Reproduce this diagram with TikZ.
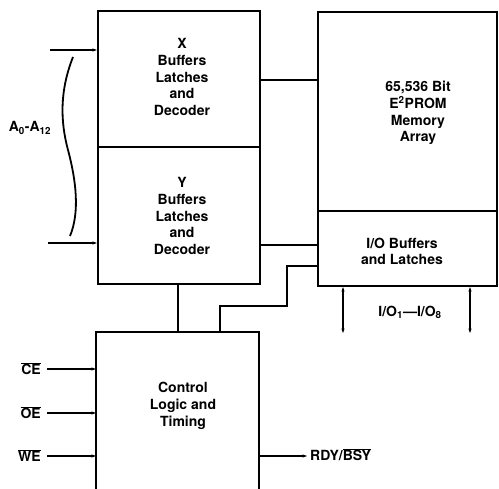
\documentclass[tikz,border=0pt]{standalone}
\usepackage{fontspec}
\setmainfont{TeX Gyre Heros}
\usetikzlibrary{arrows.meta,calc}
\begin{document}
\begin{tikzpicture}[x=1pt,y=-1pt,
  blk/.style={draw,line width=2.2pt,inner sep=0pt},
  lbl/.style={font=\fontsize{14}{16.7}\selectfont\bfseries,align=center,inner sep=0pt},
  wire/.style={line width=1.2pt},
  arr/.style={wire,-{Stealth[length=4.5pt,width=3.2pt]}},
  biarr/.style={wire,{Stealth[length=4.5pt,width=3.2pt]}-{Stealth[length=4.5pt,width=3.2pt]}}
]
\useasboundingbox (0,0) rectangle (499,489);

% blocks
\node[blk,minimum width=162pt,minimum height=136pt] (xb) at (179,79) {};
\node[blk,minimum width=162pt,minimum height=137pt] (yb) at (179,215.5) {};
\node[blk,minimum width=179pt,minimum height=199pt] (mb) at (407.5,111.5) {};
\node[blk,minimum width=179pt,minimum height=75pt] (iob) at (407.5,248.5) {};
\node[blk,draw=none,minimum width=161pt,minimum height=156pt] (ctl) at (177.5,411) {};
\draw[line width=2.2pt] (ctl.south west) -- (ctl.north west) -- (ctl.north east) -- (ctl.south east);

% texts
\node[lbl] (xt) at (182,77) {X\\Buffers\\Latches\\and\\Decoder};
\node[lbl] (yt) at (182,216) {Y\\Buffers\\Latches\\and\\Decoder};
\node[lbl] (mt) at (418,113) {65,536 Bit\\E\textsuperscript{2}PROM\\Memory\\Array};
\node[lbl] (iot) at (402,251.5) {I/O Buffers\\and Latches};
\node[lbl] (ct) at (183,406) {Control\\Logic and\\Timing};

% address inputs
\node[lbl] (al) at (30,128) {A\textsubscript{0}-A\textsubscript{12}};
\coordinate (a0) at (50,50);
\coordinate (a12) at (48,243);
\draw[arr] (a0) -- (xb.west |- a0);
\draw[arr] (a12) -- (yb.west |- a12);
\draw[line width=1.8pt] (73,57) .. controls (60,90) and (60,120) .. (68,150) .. controls (76,180) and (80,212) .. (70,236);

% internal wires
\coordinate (w80) at (290,80);
\draw[wire] (xb.east |- w80) -- (mb.west |- w80);
\coordinate (w245) at (290,245);
\draw[wire] (yb.east |- w245) -- (iob.west |- w245);
\coordinate (yx) at (178,300);
\draw[wire] (yb.south -| yx) -- (ctl.north -| yx);
\coordinate (k1) at (220,306);
\coordinate (k2) at (287,306);
\coordinate (k3) at (287,266);
\draw[wire] (ctl.north -| k1) -- (k1) -- (k2) -- (k3) -- (iob.west |- k3);

% control inputs
\coordinate (cein) at (47,369);
\coordinate (oein) at (47,413);
\coordinate (wein) at (47,456);
\node[lbl,anchor=base east] (ce) at (41,375) {$\overline{\mbox{CE}}$};
\node[lbl,anchor=base east] (oe) at (41,419) {$\overline{\mbox{OE}}$};
\node[lbl,anchor=base east] (we) at (41,462) {$\overline{\mbox{WE}}$};
\draw[arr] (cein) -- (ctl.west |- cein);
\draw[arr] (oein) -- (ctl.west |- oein);
\draw[arr] (wein) -- (ctl.west |- wein);

% ready/busy output
\coordinate (rdy) at (307,456);
\draw[arr] (ctl.east |- rdy) -- (rdy);
\node[lbl,anchor=base west] (rl) at (310,461) {RDY/$\overline{\mbox{BSY}}$};

% data I/O
\coordinate (io1) at (343,333);
\coordinate (io8) at (470,333);
\draw[biarr] (iob.south -| io1) -- (io1);
\draw[biarr] (iob.south -| io8) -- (io8);
\node[lbl] (iol) at (410,312) {I/O\textsubscript{1}—I/O\textsubscript{8}};
\end{tikzpicture}
\end{document}
